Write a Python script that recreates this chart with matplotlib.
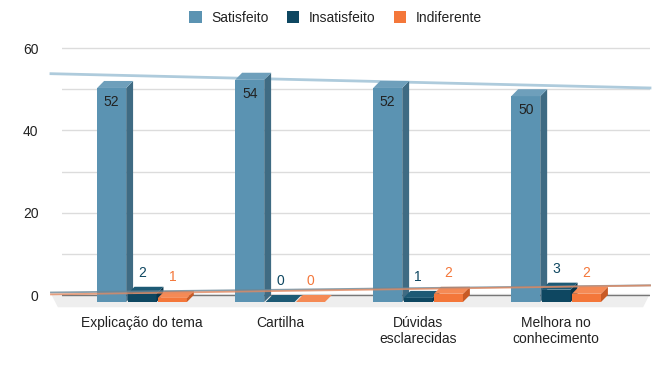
import numpy as np
import matplotlib
matplotlib.use('Agg')
import matplotlib.pyplot as plt
from matplotlib.patches import Polygon, Rectangle

categories = ['Explicação do tema', 'Cartilha', 'Dúvidas\nesclarecidas', 'Melhora no\nconhecimento']
series_names = ['Satisfeito', 'Insatisfeito', 'Indiferente']
satisfeito = [52, 54, 52, 50]
insatisfeito = [2, 0, 1, 3]
indiferente = [1, 0, 2, 2]

# front / side / top shades for each series, plus trendline colour
styles = [
    ('#5b93b2', '#3f6b83', '#6e9fbb', '#aecbdc'),
    ('#0e4761', '#093449', '#1d5a75', '#6a8797'),
    ('#f4773a', '#c85a25', '#f58a55', '#e28a62'),
]

plt.rcParams['font.family'] = ['Liberation Sans', 'DejaVu Sans']
plt.rcParams['font.size'] = 10

fig = plt.figure(figsize=(6.71, 3.66), dpi=100)
ax = fig.add_axes([0.0924, 0.149, 0.8763, 0.731])
ax.set_xlim(-0.63, 3.63)
ax.set_ylim(-4, 61)
for s in ax.spines.values():
    s.set_visible(False)

# depth of the fake 3D effect, in data units (~7 px)
DX, DY = 0.05, 1.7
W, STEP = 0.21, 0.22

x0, x1 = ax.get_xlim()
# floor
ax.add_patch(Polygon([(x0 - 0.08, 0.3), (x1, 0.3), (x1 - DX, -1.75 * DY), (x0 - 0.03, -1.75 * DY)],
                     closed=True, facecolor='#eeeeee', edgecolor='none', zorder=0.5, clip_on=False))
for g in range(10, 61, 10):
    ax.axhline(g, color='#dcdcdc', lw=1, zorder=0)
ax.axhline(0, color='#777777', lw=1, zorder=0.6)

xs = np.arange(len(categories))
data = [satisfeito, insatisfeito, indiferente]

# trend lines (Satisfeito behind bars, the low ones on top)
xl = np.array([x0 - 0.08, x1])
for j, vals in enumerate(data):
    k, b = np.polyfit(xs, vals, 1)
    ax.plot(xl, k * xl + b, color=styles[j][3], lw=2.0 if j == 0 else 1.3,
            zorder=1 if j == 0 else 5, alpha=1 if j == 0 else 0.8, clip_on=False)

for i in xs:
    for j, vals in enumerate(data):
        v = vals[i]
        front, side, top, _ = styles[j]
        left = i + (j - 1) * STEP - W / 2
        fl, fb = left - DX, -DY
        ax.add_patch(Rectangle((fl, fb), W, v, facecolor=front, edgecolor='none', zorder=2, clip_on=False))
        ax.add_patch(Polygon([(fl + W, fb), (left + W, 0), (left + W, v), (fl + W, fb + v)],
                             facecolor=side, edgecolor='none', zorder=2, clip_on=False))
        ax.add_patch(Polygon([(fl, fb + v), (fl + W, fb + v), (left + W, v), (left, v)],
                             facecolor=top, edgecolor='none', zorder=2, clip_on=False))
        cx = fl + W / 2
        if j == 0:
            ax.annotate(str(v), (cx, fb + v), xytext=(0, -10), textcoords='offset points',
                        ha='center', va='center', color='#222222', fontsize=10, zorder=6)
        else:
            ax.annotate(str(v), (cx, fb + v), xytext=(0, 15), textcoords='offset points',
                        ha='center', va='center', color=front, fontsize=10, zorder=6)

ax.set_xticks(xs - DX)
ax.set_xticklabels(categories, color='#222222')
ax.set_yticks([0, 20, 40, 60])
ax.tick_params(axis='both', length=0)
ax.tick_params(axis='y', pad=17, labelcolor='#222222')
ax.tick_params(axis='x', pad=3)

handles = [Rectangle((0, 0), 1, 1, facecolor=s[0]) for s in styles]
fig.legend(handles, series_names, loc='upper center', bbox_to_anchor=(0.5, 1.005), ncol=3,
           frameon=False, handlelength=0.9, handleheight=0.9, columnspacing=1.3,
           handletextpad=0.7, labelcolor='#222222')

fig.savefig('out.png', dpi=100)
